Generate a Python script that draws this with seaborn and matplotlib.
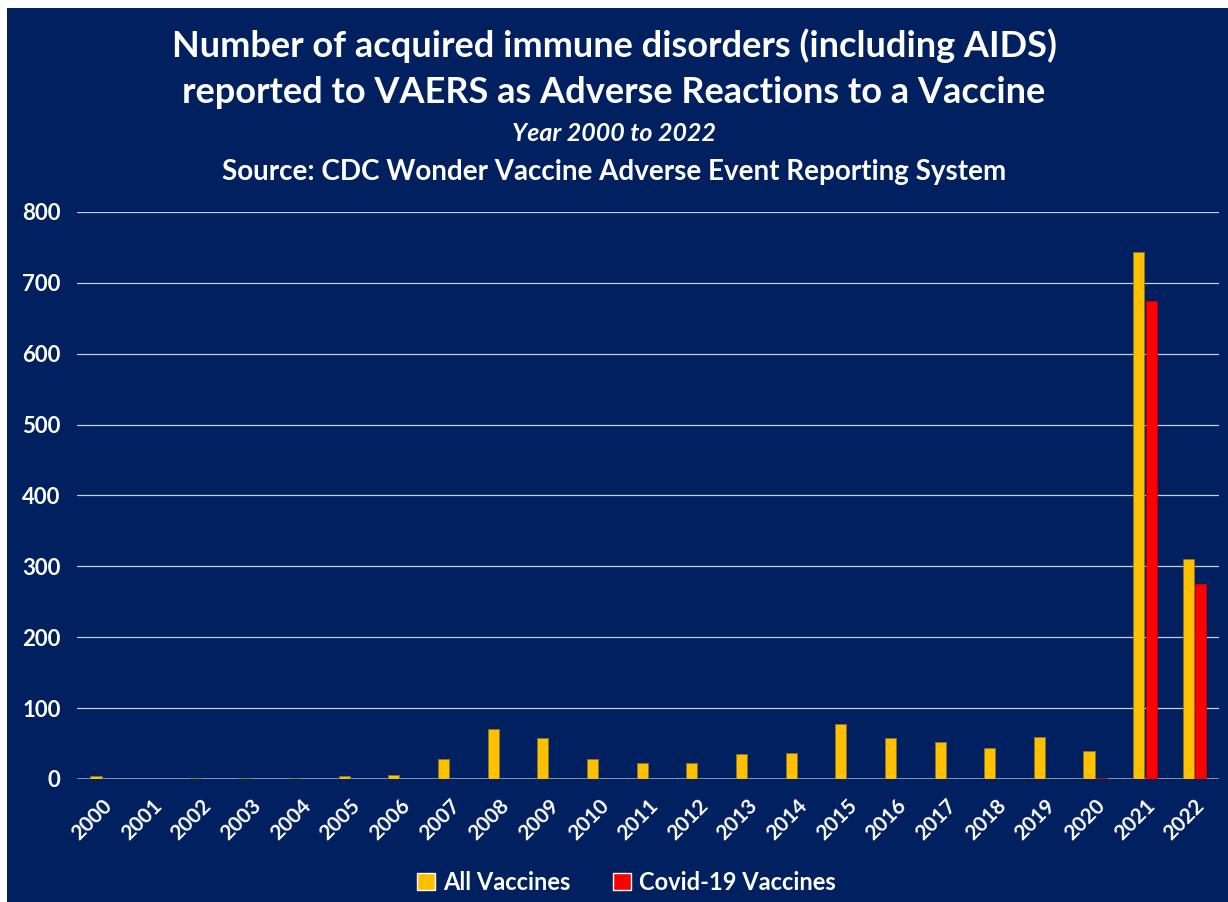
import numpy as np
import pandas as pd
import seaborn as sns
import matplotlib.pyplot as plt
from matplotlib.patches import Patch, Rectangle

# Data
years = [str(y) for y in range(2000, 2023)]
all_vaccines = [4, 0, 1, 1, 1, 4, 5, 28, 71, 58, 28, 22, 22, 35, 37, 78, 58, 52, 43, 59, 40, 743, 310]
covid_vaccines = [0, 0, 0, 0, 0, 0, 0, 0, 0, 0, 0, 0, 0, 0, 0, 0, 0, 0, 0, 0, 2, 674, 275]
series_names = ["All Vaccines", "Covid-19 Vaccines"]
y_ticks = [0, 100, 200, 300, 400, 500, 600, 700, 800]

BG = "#002060"
GOLD = "#FFC000"
RED = "#FF0000"

df = pd.DataFrame({
	"year": years * 2,
	"count": all_vaccines + covid_vaccines,
	"series": [series_names[0]] * len(years) + [series_names[1]] * len(years),
})

sns.set_theme(style="dark")
plt.rcParams['font.family'] = ['Lato', 'DejaVu Sans']

fig = plt.figure(figsize=(12.28, 9.02), dpi=100, facecolor=BG)
# thin white strips along the top and left edges
fig.patches.append(Rectangle((0, 0), 7 / 1228, 1, transform=fig.transFigure,
							 facecolor="white", edgecolor="none", zorder=-10))
fig.patches.append(Rectangle((0, 1 - 8 / 902), 1, 8 / 902, transform=fig.transFigure,
							 facecolor="white", edgecolor="none", zorder=-10))

ax = fig.add_axes([0.063, 0.1364, 0.93, 0.6286])
ax.set_facecolor(BG)

sns.barplot(data=df, x="year", y="count", hue="series",
			palette=[GOLD, RED], saturation=1, width=0.5, gap=0.1,
			edgecolor="#8a7430", linewidth=0.6, ax=ax, legend=False)

# covid bars get a red outline
for p in ax.patches:
	fc = p.get_facecolor()
	if fc[0] > 0.99 and fc[1] < 0.1:
		p.set_edgecolor("#d00000")

ax.set_ylim(0, 800)
ax.set_xlim(-0.5, len(years) - 0.5)
ax.set_yticks(y_ticks)
ax.yaxis.grid(True, color="#c8cedb", linewidth=0.9)
ax.xaxis.grid(False)
ax.set_axisbelow(True)
for s in ax.spines.values():
	s.set_visible(False)
ax.axhline(0, color="#8a98b8", linewidth=2, zorder=0.5)

ax.set_xlabel("")
ax.set_ylabel("")
ax.tick_params(axis="y", colors="white", labelsize=16, length=0, pad=12)
ax.tick_params(axis="x", colors="white", labelsize=15, length=0, pad=12)
for lab in ax.get_yticklabels():
	lab.set_fontweight("bold")
for lab in ax.get_xticklabels():
	lab.set_fontweight("bold")
	lab.set_rotation(45)
	lab.set_ha("right")
	lab.set_rotation_mode("anchor")

# titles
fig.text(0.5, 0.949, "Number of acquired immune disorders (including AIDS)",
		 ha="center", va="center", color="white", fontsize=26, fontweight="bold")
fig.text(0.5, 0.897, "reported to VAERS as Adverse Reactions to a Vaccine",
		 ha="center", va="center", color="white", fontsize=26, fontweight="bold")
fig.text(0.5, 0.852, "Year 2000 to 2022",
		 ha="center", va="center", color="white", fontsize=18, fontweight="bold", style="italic")
fig.text(0.5, 0.809, "Source: CDC Wonder Vaccine Adverse Event Reporting System",
		 ha="center", va="center", color="white", fontsize=20, fontweight="bold")

handles = [Patch(facecolor=GOLD, label=series_names[0]),
		   Patch(facecolor=RED, label=series_names[1])]
leg = fig.legend(handles=handles, loc="center", bbox_to_anchor=(0.51, 0.022), ncol=2,
				 frameon=False, fontsize=17, handlelength=0.75, handleheight=0.75,
				 handletextpad=0.35, columnspacing=1.8)
for t in leg.get_texts():
	t.set_color("white")
	t.set_fontweight("bold")

fig.savefig("out.png", dpi=100, facecolor=BG)
